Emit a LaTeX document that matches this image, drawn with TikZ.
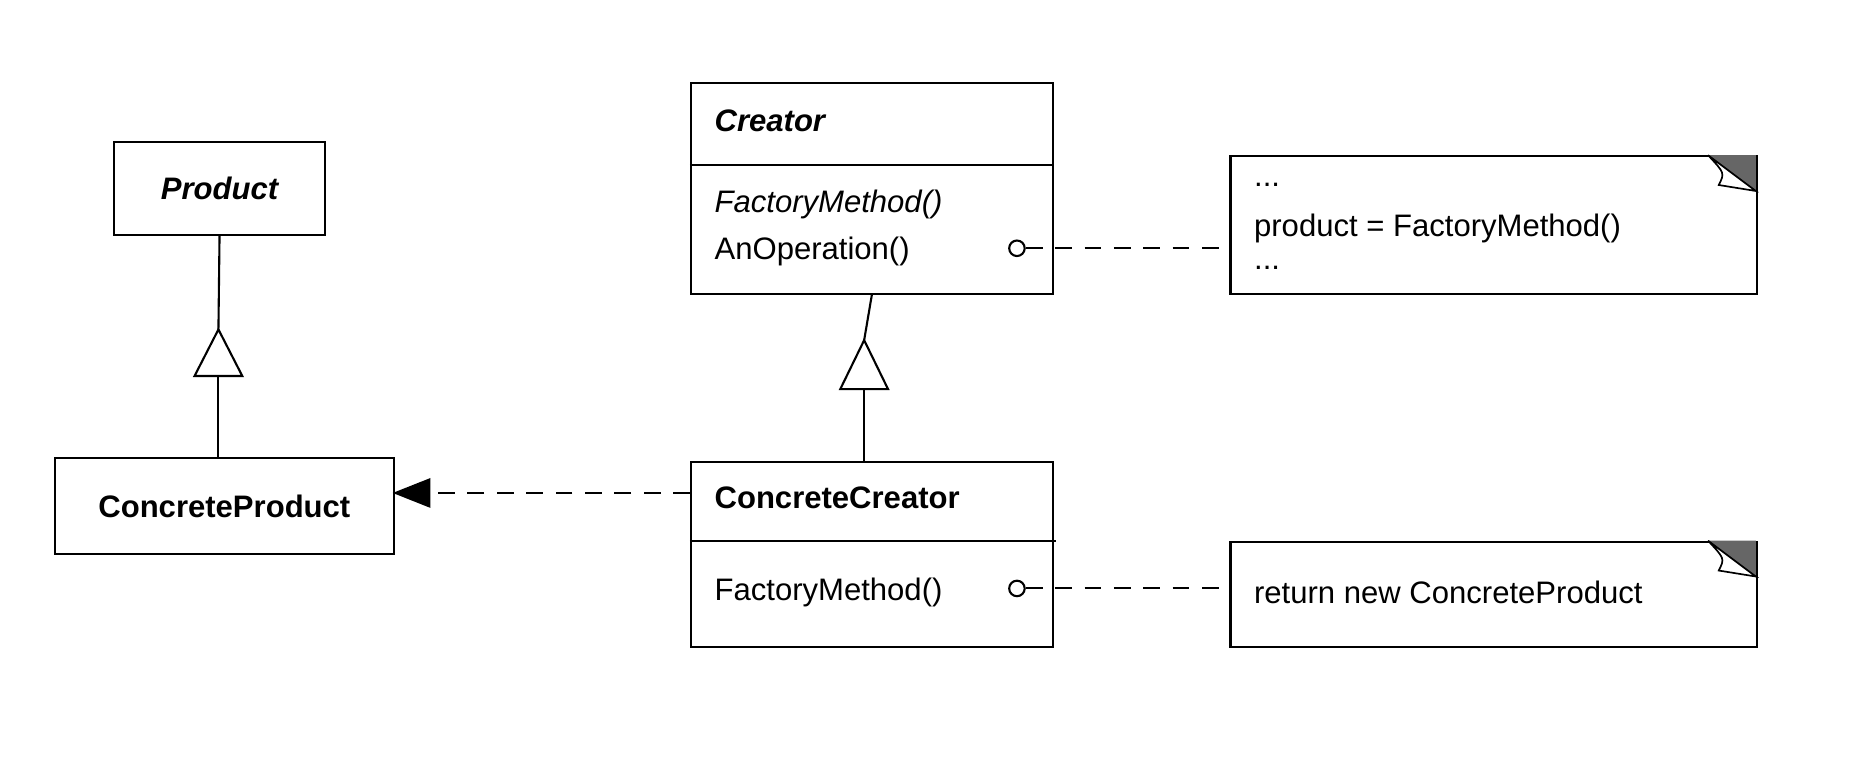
\documentclass[tikz,border=0pt]{standalone}
\usepackage{fontspec}
\setmainfont{Liberation Sans}
\usetikzlibrary{arrows.meta}
\begin{document}
\begin{tikzpicture}[x=0.01cm,y=-0.01cm,
  box/.style={draw,line width=0.5pt,inner sep=0pt,anchor=north west},
  txt/.style={anchor=west,inner sep=0pt,font=\fontsize{7.4pt}{9pt}\selectfont},
  dashlink/.style={dash pattern=on 4pt off 3pt,line width=0.5pt}]
\useasboundingbox (0,0) rectangle (1560,645);
% Product
\node[box,minimum width=1.76cm,minimum height=0.78cm] (P) at (95,118) {};
\node[font=\fontsize{7.4pt}{9pt}\selectfont\bfseries\itshape] at (P.center) {Product};
% ConcreteProduct
\node[box,minimum width=2.84cm,minimum height=0.80cm] (CP) at (45,383) {};
\node[font=\fontsize{7.4pt}{9pt}\selectfont\bfseries] at (CP.center) {ConcreteProduct};
% Creator
\node[box,minimum width=3.03cm,minimum height=1.76cm] (C) at (578,69) {};
\draw[line width=0.5pt] (578,138) -- (881,138);
\node[txt,font=\fontsize{7.4pt}{9pt}\selectfont\bfseries\itshape] at (598,101) {Creator};
\node[txt,font=\fontsize{7.4pt}{9pt}\selectfont\itshape] at (598,171) {FactoryMethod()};
\node[txt] at (598,211) {AnOperation()};
% ConcreteCreator
\node[box,minimum width=3.03cm,minimum height=1.55cm] (CC) at (578,386) {};
\draw[line width=0.5pt] (578,453) -- (885,453);
\node[txt,font=\fontsize{7.4pt}{9pt}\selectfont\bfseries] at (598,417) {ConcreteCreator};
\node[txt] at (598,496) {FactoryMethod()};
% Notes
\node[box,minimum width=4.41cm,minimum height=1.15cm] (N1) at (1030,130) {};
\fill[gray!80!black] (1431,130) -- (1471,130) -- (1471,160) -- cycle;
\draw[fill=white,line width=0.4pt] (1431,130) -- (1471,160) -- (1440,155) .. controls (1445,145) .. (1431,130);
\node[txt] at (1050,155) {...};
\node[txt] at (1050,191) {product = FactoryMethod()};
\node[txt] at (1050,224) {...};
\node[box,minimum width=4.41cm,minimum height=0.88cm] (N2) at (1030,453) {};
\fill[gray!80!black] (1431,453) -- (1471,453) -- (1471,483) -- cycle;
\draw[fill=white,line width=0.4pt] (1431,453) -- (1471,483) -- (1440,478) .. controls (1445,468) .. (1431,453);
\node[txt] at (1050,496) {return new ConcreteProduct};
% circles and dashed links
\node[draw,circle,inner sep=0pt,minimum size=0.13cm,line width=0.5pt] (o1) at (852,208) {};
\node[draw,circle,inner sep=0pt,minimum size=0.13cm,line width=0.5pt] (o2) at (852,493) {};
\coordinate (n1l) at (1030,208);
\coordinate (n2l) at (1030,493);
\draw[dashlink] (o1) -- (n1l);
\draw[dashlink] (o2) -- (n2l);
% inheritance
\coordinate (ptip) at (183,276);
\coordinate (pbase) at (183,315);
\coordinate (cpt) at (183,383);
\coordinate (ctip) at (724,285);
\coordinate (cbase) at (724,326);
\coordinate (cct) at (724,386);
\draw[line width=0.5pt] (P.south) -- (ptip);
\draw[line width=0.5pt,fill=white] (ptip) -- (163,315) -- (203,315) -- cycle;
\draw[line width=0.5pt] (pbase) -- (cpt);
\draw[line width=0.5pt] (C.south) -- (ctip);
\draw[line width=0.5pt,fill=white] (ctip) -- (704,326) -- (744,326) -- cycle;
\draw[line width=0.5pt] (cbase) -- (cct);
% creates
\coordinate (ccl) at (578,413);
\coordinate (cpr) at (329,413);
\draw[dashlink,-{Triangle[width=7pt,length=9pt]}] (ccl) -- (cpr);
\end{tikzpicture}
\end{document}
